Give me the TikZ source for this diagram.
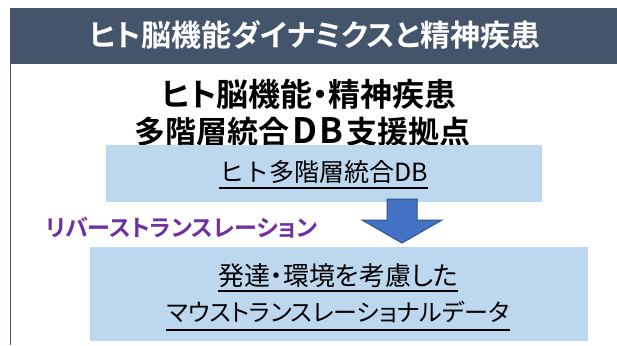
\documentclass[tikz,border=0pt]{standalone}
\usepackage{fontspec}
\newfontfamily\jp{Noto Sans CJK JP}[BoldFont={Noto Sans CJK JP Bold}]
\newfontfamily\jpp{Noto Sans CJK JP}[BoldFont={Noto Sans CJK JP Bold},RawFeature=+palt]
\definecolor{barcol}{HTML}{44546A}
\definecolor{boxcol}{HTML}{BDD7EE}
\definecolor{purp}{HTML}{7030A0}
\definecolor{arrfill}{HTML}{4472C4}
\definecolor{arrline}{HTML}{2F528F}
\definecolor{edgecol}{HTML}{4A5E86}
\tikzset{
  txt/.style={inner sep=0pt, outer sep=0pt, anchor=base},
  ul/.style={line width=1.6pt, black},
  bluebox/.style={fill=boxcol, draw=none}
}
\begin{document}
\begin{tikzpicture}[x=1pt,y=-1pt]
\useasboundingbox (0,0) rectangle (617,345);
\fill[white] (0,0) rectangle (617,345);
% header bar
\fill[barcol] (10,8) rectangle (617,64);
\draw[edgecol, line width=1.2pt] (10.6,64) -- (10.6,345);
\node[txt, white] (title) at (315,46) {\jpp\fontsize{30}{34}\selectfont\bfseries ヒト脳機能ダイナミクスと精神疾患};
% heading
\node[txt] (h1) at (309,106) {\jpp\fontsize{32}{36}\selectfont\bfseries ヒト脳機能・精神疾患};
\node[txt] (h2) at (302.5,143) {\jp\fontsize{31}{36}\selectfont\bfseries 多階層統合\kern3pt{\fontsize{35}{36}\selectfont D\kern2pt B}\kern3pt 支援拠点};
% box 1
\fill[bluebox] (106,145) rectangle (542,202);
\node[txt] (b1) at (323.5,181) {\jp\fontsize{25}{30}\selectfont ヒト多階層統合DB};
\draw[ul] (b1.west |- 0,188) -- (b1.east |- 0,188);
% arrow
\filldraw[fill=arrfill, draw=arrline, line width=1pt, line join=miter]
  (387,199) -- (417,199) -- (417,220) -- (442,220) -- (402,243) -- (362,220) -- (387,220) -- cycle;
% purple label
\node[txt, purp] (rt) at (181.5,236) {\jpp\fontsize{23}{28}\selectfont\bfseries リバーストランスレーション};
% box 2
\fill[bluebox] (90,247) rectangle (588,341);
\node[txt] (b2a) at (338,285) {\jpp\fontsize{26}{30}\selectfont 発達・環境を考慮した};
\draw[ul] (b2a.west |- 0,291) -- (b2a.east |- 0,291);
\node[txt] (b2b) at (338,321) {\jpp\fontsize{24}{30}\selectfont マウストランスレーショナルデータ};
\draw[ul] (b2b.west |- 0,330) -- (b2b.east |- 0,330);
\end{tikzpicture}
\end{document}
